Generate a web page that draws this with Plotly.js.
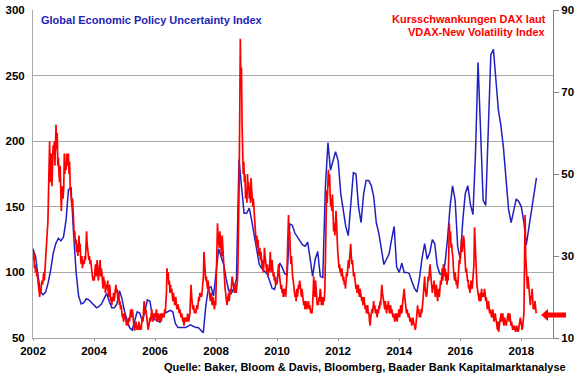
<!DOCTYPE html>
<html>
<head>
<meta charset="utf-8">
<script src="https://cdn.plot.ly/plotly-3.0.1.min.js"></script>
<style>
html,body{margin:0;padding:0;background:#fff;}
#chart{width:580px;height:375px;}
</style>
</head>
<body>
<div id="chart"></div>
<script>
// Global Economic Policy Uncertainty Index, monthly (left axis)
const epuStartYear = 2002;
const epu2002_2005 = [
  118,112,98,85,83,85,92,102,115,122,126,124,
  127,140,163,165,130,100,82,76,77,80,79,77,
  75,73,74,76,80,84,78,73,73,76,86,80,
  70,63,58,56,62,70,69,63,70,79,78,66
];
const epu2006_2009 = [
  64,63,62,67,69,70,71,70,61,58,58,58,
  58,59,60,59,58,58,56,54,75,88,89,82,
  100,118,112,106,95,86,84,88,95,186,165,145,
  145,149,140,128,117,106,103,101,99,94,88,87
];
const epu2010_2013 = [
  95,107,104,99,98,137,136,130,127,125,121,120,
  123,110,97,110,116,97,96,165,199,178,185,192,
  185,160,148,135,128,155,176,175,150,138,160,170,
  170,166,158,138,130,118,106,110,114,125,135,104
];
const epu2014_2018 = [
  100,107,100,100,99,93,88,85,96,111,122,110,
  115,125,122,105,99,98,106,125,150,166,155,120,
  110,140,160,166,152,144,190,260,210,155,151,210,
  266,270,245,224,212,195,172,148,138,148,156,154,
  150,138,121,134,146,158,172
];

// VDAX-New, weekly (right axis)
const vdax2002 = [29,31,27,28,26,27,25,26, 24,22,21,20,22,21,23,24,23, 25,26,24,27,29,31,33,36,38, 45,52,58,48, 50,55,47,52,57, 55,58,52,57, 62,56,60,52,54, 50,48,52,43,41,45,47,44];
const vdax2003 = [47,55,50,53, 51,55,52,54, 55,50,53,47,45, 45,42,44,40, 38,35,36,33,34, 31,33,30,32, 35,31,33,29, 28,30,27,29,28, 28,30,29,32, 36,33,31,30,29, 30,28,29,27, 26,25,24,25];
const vdax2004 = [24,26,28,25,27,29,26,24, 26,28,29,25,27, 26,24,22,25,23,24,21,22,23, 22,24,21,20,23,22,19,20, 18,20,19,21,19, 20,22,23,21,22,20,19,21,18, 19,17,18,16,15,16,14,15];
const vdax2005 = [16,15,14,13,14,13,14,15,14,16,17,16,15, 17,15,13,12,12,13,14,13,12,13,12,14,13, 12,13,12,14,15,14,17,19,18,16,17,15,14, 13,12,13,14,15,14,16,17,15,14,15,16,15];
const vdax2006 = [15,16,17,14,15,16,15,14,15,16,14,15,16, 15,16,15,17,16,18,21,27,25,26,23,24,21, 23,21,22,20,19,21,20,18,19,20,18,17,18, 18,17,16,17,16,15,16,15,14,15,13,14,15];
const vdax2007 = [14,15,14,16,15,14,15,16,20,23,20,18,17, 18,17,16,17,16,17,18,17,19,20,19,21,20, 21,20,22,23,25,31,28,26,24,25,23,22,24, 22,21,20,19,21,20,18,19,20,18,17,19,18];
const vdax2008 = [25,30,38,35,33,32,36,34,31,30,35,32,29, 26,24,22,21,19,18,19,20,21,19,20,22,21, 23,25,24,23,22,21,22,23,21,22,24,28,35, 48,64,83,72,76, 62,56,50,53, 48,50,44,46];
const vdax2009 = [43,50,46,48,44,47,43,49,46,44,42,44,41, 40,37,35,33,35,32,34,31,30,32,29,31,28, 27,29,26,28,32,30,28,27,26,28,25,27,26, 28,31,27,26,29,27,25,26,24,25,23,24,23];
const vdax2010 = [24,27,28,26,25,24,22,23,21,22,20,21,22, 21,20,22,24,30,35,40,34,36,31,28,30,26, 25,24,22,21,20,21,19,22,20,21,23,22,24, 23,21,20,22,20,19,18,19,17,18,19,17,18];
const vdax2011 = [18,19,17,18,17,16,17,16,18,23,25,21,20, 24,21,19,18,19,18,20,19,22,21,18,20,19, 18,20,19,22,30,39,46,43,48,51,47,50,45, 42,44,41,45,40,36,38,35,37,41,38,33,31];
const vdax2012 = [29,27,28,26,27,25,27,26,24,25,23,24,22, 24,26,25,28,29,27,30,32,33,30,28,29,26, 25,26,24,23,22,23,21,22,23,21,20,22,21, 21,19,20,18,19,20,18,17,18,16,17,18,16];
const vdax2013 = [16,14,13,15,16,17,16,18,19,17,18,16,17, 16,15,17,16,18,17,19,18,21,23,21,20,19, 18,17,19,17,16,18,17,19,18,16,17,18,16, 17,16,15,16,15,14,15,16,15,14,16,15,17];
const vdax2014 = [15,16,18,17,16,18,19,21,22,20,18,17,16, 17,16,15,16,15,14,15,14,13,14,15,14,13, 13,12,13,15,17,18,16,17,15,16,15,17,16, 17,19,21,24,25,22,21,20,21,23,25,24,26];
const vdax2015 = [28,26,24,22,21,23,22,24,21,20,22,23,21, 19,21,22,20,22,24,23,25,27,24,28,26,25, 27,24,26,23,25,24,30,38,34,36,32,33,31, 30,27,25,24,26,25,23,24,22,24,27,29,28];
const vdax2016 = [30,32,34,31,33,35,34,30,28,26,27,25,24, 24,22,23,21,22,24,23,22,24,26,28,37,32, 28,25,23,22,21,20,19,20,21,19,22,20,21, 21,20,22,21,19,20,18,17,18,19,17,16,17];
const vdax2017 = [16,15,16,17,15,14,15,16,15,14,13,12,14, 11.5,13,14,15,16,14,15,16,14,13,15,14,13, 13,14,15,16,15,14,16,15,13,14,13,12,13, 12,13,12,11.5,12,13,12,11.5,12,13,14,15,14];
const vdax2018 = [13,12,13,14,16,28,40,30, 27,24,22,25,23, 21,19,18,20, 20,22,18,17,18, 17,19,16,16];

const vdaxYears = [2002,2003,2004,2005,2006,2007,2008,2009,2010,2011,2012,2013,2014,2015,2016,2017,2018];
const vdaxByYear = [vdax2002,vdax2003,vdax2004,vdax2005,vdax2006,vdax2007,vdax2008,vdax2009,vdax2010,vdax2011,vdax2012,vdax2013,vdax2014,vdax2015,vdax2016,vdax2017,vdax2018];

function iso(d){ return d.toISOString().slice(0,10); }

const epuVals = [].concat(epu2002_2005, epu2006_2009, epu2010_2013, epu2014_2018);
const epuDates = epuVals.map((v,i)=> iso(new Date(Date.UTC(epuStartYear, i, 1))));

const vdaxDates = [], vdaxVals = [];
vdaxYears.forEach((y, yi) => {
  vdaxByYear[yi].forEach((v, k) => {
    vdaxDates.push(iso(new Date(Date.UTC(y, 0, 4 + 7*k))));
    vdaxVals.push(v);
  });
});

const FONT = 'Liberation Sans, Arial, sans-serif';
const tickFont = {family: FONT, size: 11.5, color: '#000', weight: 'bold'};

const traces = [
  {x: vdaxDates, y: vdaxVals, yaxis: 'y2', type: 'scatter', mode: 'lines',
   line: {color: '#ff0000', width: 1.7}, name: 'VDAX'},
  {x: epuDates, y: epuVals, yaxis: 'y', type: 'scatter', mode: 'lines',
   line: {color: '#2020c0', width: 1.5}, name: 'EPU'}
];

const layout = {
  width: 580, height: 375,
  margin: {l: 33, r: 27, t: 10, b: 37},
  paper_bgcolor: '#fff', plot_bgcolor: '#fff',
  showlegend: false,
  xaxis: {
    type: 'date', range: ['2002-01-01', '2019-01-15'],
    tick0: '2002-01-01', dtick: 'M24', tickformat: '%Y',
    showgrid: false, zeroline: false, showline: true, linecolor: '#a0a0a0', linewidth: 1,
    ticks: 'outside', ticklen: 2, tickcolor: '#a0a0a0', tickfont: tickFont
  },
  yaxis: {
    range: [50, 300], dtick: 50, tick0: 50,
    showgrid: true, gridcolor: '#a8a8a8', gridwidth: 1,
    zeroline: false, showline: true, linecolor: '#a8a8a8',
    ticks: 'outside', ticklen: 5, tickcolor: 'rgba(0,0,0,0)', tickfont: tickFont
  },
  yaxis2: {
    range: [10, 90], dtick: 20, tick0: 10, overlaying: 'y', side: 'right',
    showgrid: false, zeroline: false, showline: true, linecolor: '#808080',
    ticks: 'outside', ticklen: 5, tickcolor: '#808080', tickfont: tickFont
  },
  annotations: [
    {xref: 'paper', yref: 'paper', x: 0.0115, y: 0.968, xanchor: 'left', yanchor: 'middle',
     text: 'Global Economic Policy Uncertainty Index', showarrow: false,
     font: {family: FONT, size: 11, color: '#2424b4', weight: 'bold'}},
    {xref: 'paper', yref: 'paper', x: 0.9904, y: 0.9716, xanchor: 'right', yanchor: 'middle',
     text: 'Kursschwankungen DAX laut', showarrow: false,
     font: {family: FONT, size: 11, color: '#ff0000', weight: 'bold'}},
    {xref: 'paper', yref: 'paper', x: 0.9904, y: 0.932, xanchor: 'right', yanchor: 'middle',
     text: 'VDAX-New Volatility Index', showarrow: false,
     font: {family: FONT, size: 11, color: '#ff0000', weight: 'bold'}},
    {xref: 'paper', yref: 'paper', x: 1.0288, y: -0.0869, xanchor: 'right', yanchor: 'middle',
     text: 'Quelle: Baker, Bloom & Davis, Bloomberg, Baader Bank Kapitalmarktanalyse', showarrow: false,
     font: {family: FONT, size: 11, color: '#000', weight: 'bold'}}
  ],
  shapes: [
    {type: 'path', xref: 'paper', yref: 'paper',
     path: 'M 0.9769 0.0701 L 0.9904 0.0884 L 0.9904 0.0777 L 1.025 0.0777 L 1.025 0.0625 L 0.9904 0.0625 L 0.9904 0.0518 Z',
     fillcolor: '#ff0000', line: {width: 0}}
  ]
};

Plotly.newPlot('chart', traces, layout, {displayModeBar: false, staticPlot: true});
</script>
</body>
</html>
